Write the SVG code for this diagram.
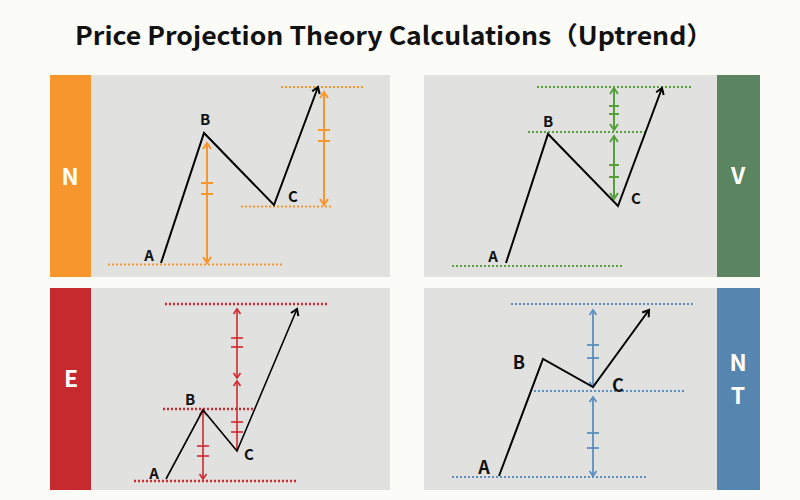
<svg xmlns="http://www.w3.org/2000/svg" width="800" height="500" viewBox="0 0 800 500">
<style>
.t{font-family:"Noto Sans CJK JP","Noto Sans",sans-serif;font-weight:bold;fill:#111}
.lbl{font-family:"Noto Sans CJK JP","Noto Sans",sans-serif;font-weight:bold;fill:#111;text-anchor:middle}
.side{font-family:"Noto Sans CJK JP","Noto Sans",sans-serif;font-weight:bold;fill:#fff;text-anchor:middle;font-size:23px}
.panel{fill:#e1e1e0}
.path{fill:none;stroke:#000;stroke-width:2;stroke-linejoin:miter}
.dot{fill:none;stroke-dasharray:2 2}
.o{stroke:#f7962c}
.g{stroke:#56a03a}
.r{stroke:#d0282f}
.b{stroke:#5b8fc0}
</style>
<defs>
<marker id="mk" markerUnits="userSpaceOnUse" viewBox="-8 -5 10 10" markerWidth="10" markerHeight="10" refX="0" refY="0" orient="auto"><path d="M-6,-4 L0,0 L-6,4" fill="none" stroke="#000" stroke-width="2"/></marker>
<marker id="mo" markerUnits="userSpaceOnUse" viewBox="-8 -5 10 10" markerWidth="10" markerHeight="10" refX="0" refY="0" orient="auto-start-reverse"><path d="M-6,-4 L0,0 L-6,4" fill="none" stroke="#f7962c" stroke-width="2"/></marker>
<marker id="mg" markerUnits="userSpaceOnUse" viewBox="-8 -5 10 10" markerWidth="10" markerHeight="10" refX="0" refY="0" orient="auto-start-reverse"><path d="M-6,-4 L0,0 L-6,4" fill="none" stroke="#56a03a" stroke-width="2"/></marker>
<marker id="mr" markerUnits="userSpaceOnUse" viewBox="-8 -5 10 10" markerWidth="10" markerHeight="10" refX="0" refY="0" orient="auto-start-reverse"><path d="M-5,-3.5 L0,0 L-5,3.5" fill="none" stroke="#d0282f" stroke-width="1.6"/></marker>
<marker id="mb" markerUnits="userSpaceOnUse" viewBox="-8 -5 10 10" markerWidth="10" markerHeight="10" refX="0" refY="0" orient="auto-start-reverse"><path d="M-5,-3.5 L0,0 L-5,3.5" fill="none" stroke="#5b8fc0" stroke-width="1.8"/></marker>
</defs>
<rect width="800" height="500" fill="#fbfbf7"/>
<text class="t" x="394" y="45" font-size="25" text-anchor="middle" textLength="638" lengthAdjust="spacingAndGlyphs">Price Projection Theory Calculations（Uptrend）</text>

<g id="panel-N">
<rect class="panel" x="91" y="75" width="299" height="202"/>
<rect x="50" y="75" width="41" height="202" fill="#f7962c"/>
<text class="side" x="70" y="185">N</text>
<g class="dot o" stroke-width="2">
<line x1="108" y1="264.5" x2="282" y2="264.5"/>
<line x1="241" y1="206.5" x2="333" y2="206.5"/>
<line x1="281" y1="87" x2="363" y2="87"/>
</g>
<g stroke="#f7962c" stroke-width="2" fill="none">
<line x1="207" y1="143" x2="207" y2="263" marker-start="url(#mo)" marker-end="url(#mo)"/>
<line x1="201" y1="183" x2="213" y2="183"/><line x1="201" y1="194" x2="213" y2="194"/>
<line x1="324" y1="92" x2="324" y2="205" marker-start="url(#mo)" marker-end="url(#mo)"/>
<line x1="318" y1="130" x2="330" y2="130"/><line x1="318" y1="141" x2="330" y2="141"/>
</g>
<polyline class="path" points="161,263 204,133 274,205 318,87" marker-end="url(#mk)"/>
<text class="lbl" x="149" y="261" font-size="15">A</text>
<text class="lbl" x="205" y="125" font-size="15">B</text>
<text class="lbl" x="293" y="202" font-size="15">C</text>
</g>

<g id="panel-V">
<rect class="panel" x="424" y="75" width="293" height="202"/>
<rect x="717" y="75" width="43" height="202" fill="#5b8560"/>
<text class="side" x="738" y="184">V</text>
<g class="dot g" stroke-width="2">
<line x1="537" y1="87" x2="692" y2="87"/>
<line x1="528" y1="132" x2="647" y2="132"/>
<line x1="452" y1="266" x2="624" y2="266"/>
</g>
<g stroke="#56a03a" stroke-width="2" fill="none">
<line x1="614" y1="88" x2="614" y2="130" marker-start="url(#mg)" marker-end="url(#mg)"/>
<line x1="609" y1="106" x2="619" y2="106"/><line x1="609" y1="114" x2="619" y2="114"/>
<line x1="614" y1="136" x2="614" y2="199" marker-start="url(#mg)" marker-end="url(#mg)"/>
<line x1="609" y1="165" x2="619" y2="165"/><line x1="609" y1="177" x2="619" y2="177"/>
</g>
<polyline class="path" points="506,263 548,134 618,206 662,88" marker-end="url(#mk)"/>
<text class="lbl" x="493" y="262" font-size="15">A</text>
<text class="lbl" x="548" y="127" font-size="15">B</text>
<text class="lbl" x="636" y="204" font-size="15">C</text>
</g>

<g id="panel-E">
<rect class="panel" x="91" y="288" width="299" height="202"/>
<rect x="50" y="288" width="41" height="202" fill="#c62a2f"/>
<text class="side" x="71" y="387">E</text>
<g class="dot r" stroke-width="2.5" stroke-dasharray="3 2">
<line x1="165" y1="304" x2="328" y2="304"/>
<line x1="163" y1="409" x2="254" y2="409"/>
<line x1="134" y1="481" x2="296" y2="481"/>
</g>
<g stroke="#d0282f" stroke-width="1.6" fill="none">
<line x1="203" y1="410" x2="203" y2="479" marker-start="url(#mr)" marker-end="url(#mr)"/>
<line x1="197" y1="446" x2="209" y2="446"/><line x1="197" y1="456" x2="209" y2="456"/>
<line x1="237" y1="309" x2="237" y2="378" marker-start="url(#mr)" marker-end="url(#mr)"/>
<line x1="231" y1="338" x2="243" y2="338"/><line x1="231" y1="347" x2="243" y2="347"/>
<line x1="237" y1="381" x2="237" y2="450" marker-start="url(#mr)"/>
<line x1="231" y1="422" x2="243" y2="422"/><line x1="231" y1="432" x2="243" y2="432"/>
</g>
<polyline class="path" points="166,479 203,410 237,451 297,309" style="stroke-width:1.6" marker-end="url(#mk)"/>
<text class="lbl" x="154" y="479" font-size="15">A</text>
<text class="lbl" x="190" y="405" font-size="15">B</text>
<text class="lbl" x="249" y="460" font-size="15">C</text>
</g>

<g id="panel-NT">
<rect class="panel" x="424" y="288" width="293" height="202"/>
<rect x="717" y="288" width="43" height="202" fill="#5686b0"/>
<text class="side" x="738" y="371">N</text>
<text class="side" x="738" y="404">T</text>
<g class="dot b" stroke-width="2">
<line x1="511" y1="304" x2="693" y2="304"/>
<line x1="534" y1="391" x2="685" y2="391"/>
<line x1="452" y1="477" x2="648" y2="477"/>
</g>
<g stroke="#5b8fc0" stroke-width="1.8" fill="none">
<line x1="593" y1="310" x2="593" y2="387" marker-start="url(#mb)" marker-end="url(#mb)"/>
<line x1="587" y1="345" x2="599" y2="345"/><line x1="587" y1="358" x2="599" y2="358"/>
<line x1="593" y1="397" x2="593" y2="476" marker-start="url(#mb)" marker-end="url(#mb)"/>
<line x1="587" y1="433" x2="599" y2="433"/><line x1="587" y1="448" x2="599" y2="448"/>
</g>
<polyline class="path" points="499,476 543,359 593,387 649,310" marker-end="url(#mk)"/>
<text class="lbl" x="484" y="474" font-size="18">A</text>
<text class="lbl" x="519" y="369" font-size="18">B</text>
<text class="lbl" x="618" y="392" font-size="18">C</text>
</g>
</svg>
